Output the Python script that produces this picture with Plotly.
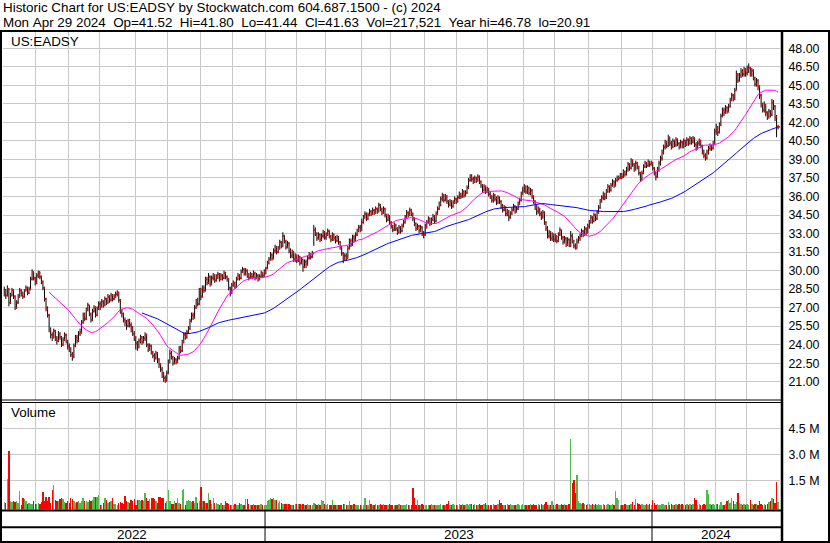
import pandas as pd
import plotly.graph_objects as go

# ---------------- text ----------------
title_line1 = "Historic Chart for US:EADSY by Stockwatch.com 604.687.1500 - (c) 2024"
title_line2 = "Mon Apr 29 2024  Op=41.52  Hi=41.80  Lo=41.44  Cl=41.63  Vol=217,521  Year hi=46.78  lo=20.91"
symbol_label = "US:EADSY"
volume_label = "Volume"

# ---------------- calendar (trading days) ----------------
start_date = "2022-05-02"
end_date = "2024-04-29"
market_holidays = [
    "2022-05-30", "2022-06-20", "2022-07-04", "2022-09-05", "2022-11-24", "2022-12-26",
    "2023-01-02", "2023-01-16", "2023-02-20", "2023-04-07", "2023-05-29", "2023-06-19",
    "2023-07-04", "2023-09-04", "2023-11-23", "2023-12-25",
    "2024-01-01", "2024-01-15", "2024-02-19", "2024-03-29",
]

# ---------------- daily data ----------------
close = [
    # May 2022
    28.3, 28.0, 28.5, 27.4, 28.0, 28.4, 27.9, 27.0, 27.4, 27.9, 28.4, 28.1, 27.9, 28.4, 28.6, 28.2, 28.5, 29.3, 29.9, 29.4, 29.0,
    # Jun 2022
    29.6, 29.9, 29.5, 29.1, 28.6, 27.7, 26.9, 26.4, 25.2, 24.8, 24.6, 25.1, 24.5, 24.3, 24.9, 24.6, 24.0, 24.4, 24.8, 24.3, 23.9,
    # Jul 2022
    23.6, 23.2, 23.0, 23.9, 24.6, 24.3, 24.9, 25.0, 25.8, 26.4, 26.1, 26.8, 27.2, 26.5, 26.0, 26.7, 27.0, 26.4, 26.9, 27.3,
    # Aug 2022
    27.1, 27.5, 27.2, 27.7, 27.4, 27.9, 27.6, 28.0, 27.7, 27.9, 28.1, 28.2, 27.6, 26.7, 26.5, 26.0, 25.8, 25.5, 25.9, 25.6, 25.3, 24.9, 24.6,
    # Sep 2022
    24.1, 23.8, 24.3, 24.6, 24.2, 24.5, 24.8, 24.0, 23.6, 23.9, 23.4, 23.1, 22.9, 23.3, 22.8, 22.4, 22.0, 21.6, 21.3, 21.1, 21.7,
    # Oct 2022
    22.6, 23.3, 23.0, 22.5, 22.8, 22.6, 22.9, 23.7, 23.5, 24.2, 24.8, 24.6, 25.0, 25.3, 25.9, 26.4, 26.2, 27.0, 27.5, 27.3, 28.4,
    # Nov 2022
    27.9, 28.6, 28.4, 29.3, 29.0, 29.5, 28.9, 29.4, 29.6, 29.2, 29.5, 29.7, 29.3, 29.6, 29.4, 29.8, 29.5, 29.3, 28.6, 28.2, 28.8,
    # Dec 2022
    29.0, 28.7, 29.3, 29.6, 29.4, 29.9, 30.1, 29.7, 30.0, 29.6, 29.4, 29.7, 29.5, 29.8, 29.4, 29.6, 29.3, 29.5, 29.8, 29.6, 29.9,
    # Jan 2023
    30.2, 30.6, 30.9, 31.3, 31.0, 31.6, 31.9, 31.5, 31.8, 32.3, 32.0, 32.8, 32.4, 31.9, 32.2, 31.6, 31.2, 31.5, 30.9, 31.2,
    # Feb 2023
    30.8, 31.1, 30.6, 30.9, 30.3, 30.7, 30.5, 31.0, 31.3, 31.1, 31.4, 33.3, 33.0, 32.6, 32.9, 32.5, 32.8, 33.1, 32.7,
    # Mar 2023
    32.9, 33.2, 32.8, 32.5, 32.9, 32.6, 32.4, 32.7, 32.3, 31.9, 31.4, 30.9, 31.2, 31.0, 31.8, 32.4, 32.1, 32.7, 32.5, 32.9, 33.2, 33.5, 33.3,
    # Apr 2023
    33.9, 34.3, 34.6, 34.2, 34.5, 34.8, 34.6, 34.9, 34.7, 35.0, 34.8, 35.3, 35.0, 34.7, 35.0, 34.5, 34.1, 34.4, 33.9,
    # May 2023
    33.6, 33.3, 33.7, 33.4, 33.1, 33.5, 33.2, 33.6, 33.9, 34.3, 34.7, 34.5, 34.9, 34.6, 34.2, 33.8, 33.4, 33.6, 33.2, 33.5, 33.0, 32.9,
    # Jun 2023
    33.6, 33.9, 34.2, 33.8, 34.1, 34.4, 34.0, 34.6, 35.0, 35.4, 35.8, 36.1, 35.7, 36.0, 35.6, 35.3, 35.6, 35.2, 35.5, 35.8, 35.6,
    # Jul 2023
    35.9, 36.2, 36.0, 36.4, 36.1, 36.3, 36.7, 37.3, 37.6, 37.4, 37.2, 37.5, 37.3, 37.6, 37.2, 36.9, 36.5, 36.8, 36.4, 36.6,
    # Aug 2023
    36.2, 36.0, 35.7, 36.1, 35.8, 35.5, 35.9, 35.6, 35.2, 34.9, 35.1, 34.6, 34.8, 34.3, 34.6, 34.9, 35.2, 34.8, 35.0, 35.4, 35.7, 36.2, 36.5,
    # Sep 2023
    36.8, 36.4, 36.7, 36.3, 36.5, 36.0, 35.6, 35.1, 34.8, 35.0, 34.6, 34.4, 34.7, 33.9, 33.4, 32.8, 33.1, 32.6, 32.9, 32.5,
    # Oct 2023
    32.8, 32.4, 32.9, 33.3, 32.7, 32.3, 32.6, 32.1, 32.5, 32.1, 32.8, 32.4, 32.0, 31.8, 32.3, 32.6, 32.8, 33.2, 32.9, 33.4, 33.1, 33.6,
    # Nov 2023
    33.9, 34.3, 34.0, 34.5, 34.2, 34.7, 35.1, 35.6, 35.9, 36.2, 35.9, 36.4, 36.8, 36.5, 36.9, 37.2, 36.9, 37.3, 37.5, 37.5, 37.7,
    # Dec 2023
    37.6, 38.0, 37.8, 38.2, 38.6, 38.3, 38.9, 38.6, 38.2, 38.7, 38.4, 37.9, 37.4, 37.9, 38.4, 38.7, 38.5, 38.8, 38.6, 38.7,
    # Jan 2024
    38.3, 37.9, 37.6, 38.2, 38.7, 39.1, 39.6, 40.0, 40.4, 40.1, 40.8, 40.3, 40.0, 40.5, 40.2, 40.6, 40.3, 40.0, 40.4, 40.1, 40.5,
    # Feb 2024
    40.2, 40.6, 40.3, 40.7, 40.4, 40.7, 40.2, 39.9, 40.3, 40.5, 40.1, 39.6, 39.3, 39.1, 39.6, 39.9, 40.1, 39.9, 40.3, 41.3,
    # Mar 2024
    41.5, 41.2, 41.8, 42.5, 43.0, 42.8, 43.2, 42.9, 43.3, 43.8, 44.2, 43.9, 44.6, 45.9, 45.4, 45.8, 46.1, 45.9, 46.2, 46.0,
    # Apr 2024
    46.3, 46.4, 45.9, 46.2, 45.6, 45.1, 45.4, 44.9, 44.2, 43.5, 43.0, 43.4, 42.8, 42.5, 42.9, 42.6, 43.6, 43.3, 42.4, 41.6, 41.63,
]

high = [
    # May 2022
    28.7, 28.5, 28.8, 28.6, 28.2, 28.6, 28.5, 28.0, 27.6, 28.1, 28.6, 28.5, 28.3, 28.5, 28.8, 28.7, 28.7, 29.5, 30.1, 29.9, 29.5,
    # Jun 2022
    29.8, 30.0, 29.9, 29.6, 29.2, 28.7, 27.8, 27.1, 26.5, 25.4, 25.0, 25.3, 25.2, 24.7, 25.1, 25.0, 24.7, 24.6, 25.0, 24.9, 24.4,
    # Jul 2022
    24.1, 23.8, 23.4, 24.1, 24.8, 24.8, 25.1, 25.3, 26.0, 26.6, 26.6, 27.0, 27.4, 27.2, 26.6, 26.9, 27.2, 27.1, 27.1, 27.5,
    # Aug 2022
    27.5, 27.7, 27.6, 27.9, 27.8, 28.1, 28.0, 28.2, 28.1, 28.1, 28.3, 28.4, 28.3, 27.7, 26.9, 26.6, 26.2, 26.0, 26.1, 26.1, 25.8, 25.5, 25.1,
    # Sep 2022
    24.7, 24.3, 24.5, 24.8, 24.7, 24.7, 25.0, 24.9, 24.1, 24.1, 24.0, 23.5, 23.3, 23.5, 23.4, 22.9, 22.5, 22.2, 21.8, 21.5, 21.9,
    # Oct 2022
    22.8, 23.6, 23.5, 23.1, 23.0, 22.9, 23.1, 23.9, 23.9, 24.4, 25.0, 25.0, 25.2, 25.5, 26.1, 26.6, 26.6, 27.2, 27.7, 27.8, 28.6,
    # Nov 2022
    28.6, 28.8, 28.8, 29.5, 29.5, 29.8, 29.6, 29.6, 29.8, 29.7, 29.7, 29.9, 29.8, 29.8, 29.7, 30.0, 29.9, 29.6, 29.4, 28.7, 29.0,
    # Dec 2022
    29.2, 29.1, 29.5, 29.8, 29.7, 30.1, 30.3, 30.2, 30.2, 30.1, 29.8, 29.9, 29.8, 30.0, 29.9, 29.8, 29.7, 29.7, 30.0, 29.9, 30.1,
    # Jan 2023
    30.3, 30.8, 31.1, 31.5, 31.4, 31.8, 32.1, 32.0, 32.0, 32.5, 32.4, 33.1, 32.9, 32.5, 32.4, 32.3, 31.8, 31.7, 31.6, 31.4,
    # Feb 2023
    31.3, 31.3, 31.2, 31.1, 30.9, 30.9, 30.9, 31.2, 31.5, 31.4, 31.6, 33.7, 33.5, 33.1, 33.1, 33.0, 33.0, 33.3, 33.2,
    # Mar 2023
    33.1, 33.4, 33.3, 32.9, 33.1, 33.0, 32.8, 32.9, 32.8, 32.4, 32.0, 31.5, 31.4, 31.4, 32.0, 32.6, 32.6, 32.9, 32.9, 33.1, 33.4, 33.7, 33.7,
    # Apr 2023
    34.2, 34.5, 34.8, 34.7, 34.7, 35.0, 34.9, 35.1, 35.0, 35.2, 35.1, 35.5, 35.4, 35.1, 35.2, 35.1, 34.6, 34.6, 34.5,
    # May 2023
    34.0, 33.7, 33.9, 33.8, 33.5, 33.7, 33.6, 33.8, 34.1, 34.5, 34.9, 34.8, 35.1, 35.0, 34.7, 34.3, 33.9, 33.8, 33.7, 33.7, 33.6, 33.2,
    # Jun 2023
    33.8, 34.1, 34.4, 34.3, 34.3, 34.6, 34.5, 34.8, 35.2, 35.6, 36.0, 36.3, 36.2, 36.2, 36.1, 35.7, 35.8, 35.7, 35.7, 36.0, 35.9,
    # Jul 2023
    36.1, 36.4, 36.3, 36.6, 36.5, 36.5, 36.9, 37.5, 37.8, 37.8, 37.6, 37.7, 37.6, 37.8, 37.7, 37.3, 37.0, 37.0, 36.9, 36.8,
    # Aug 2023
    36.7, 36.4, 36.1, 36.3, 36.2, 36.0, 36.1, 36.0, 35.7, 35.4, 35.3, 35.2, 35.0, 34.9, 34.8, 35.1, 35.4, 35.3, 35.2, 35.6, 35.9, 36.4, 36.8,
    # Sep 2023
    37.0, 36.9, 36.9, 36.8, 36.7, 36.6, 36.1, 35.7, 35.3, 35.2, 35.1, 34.8, 34.9, 34.8, 34.0, 33.6, 33.3, 33.2, 33.1, 33.0,
    # Oct 2023
    33.0, 32.8, 33.1, 33.5, 33.3, 32.8, 32.8, 32.7, 32.7, 32.6, 33.2, 33.0, 32.5, 32.2, 32.6, 32.8, 33.0, 33.4, 33.3, 33.6, 33.5, 33.8,
    # Nov 2023
    34.1, 34.5, 34.4, 34.7, 34.6, 34.9, 35.3, 35.8, 36.1, 36.4, 36.3, 36.6, 37.0, 36.9, 37.1, 37.4, 37.3, 37.5, 37.7, 37.7, 37.9,
    # Dec 2023
    37.9, 38.2, 38.1, 38.4, 38.8, 38.7, 39.1, 39.0, 38.7, 38.9, 38.8, 38.5, 38.0, 38.1, 38.6, 38.9, 38.8, 39.0, 38.9, 38.9,
    # Jan 2024
    38.8, 38.4, 38.0, 38.4, 38.9, 39.3, 39.8, 40.2, 40.6, 40.5, 41.0, 40.8, 40.5, 40.7, 40.6, 40.8, 40.7, 40.4, 40.6, 40.5, 40.7,
    # Feb 2024
    40.6, 40.8, 40.7, 40.9, 40.8, 40.9, 40.8, 40.4, 40.5, 40.7, 40.6, 40.2, 39.8, 39.5, 39.8, 40.1, 40.3, 40.2, 40.5, 41.5,
    # Mar 2024
    41.9, 41.7, 42.0, 42.7, 43.2, 43.2, 43.4, 43.3, 43.5, 44.0, 44.4, 44.3, 44.8, 46.2, 46.0, 46.0, 46.4, 46.3, 46.5, 46.4,
    # Apr 2024
    46.6, 46.78, 46.5, 46.4, 46.3, 45.7, 45.6, 45.5, 45.0, 44.3, 43.6, 43.7, 43.5, 42.9, 43.1, 43.0, 43.9, 43.8, 43.4, 42.6, 41.80,
]

low = [
    # May 2022
    27.9, 27.7, 27.9, 27.1, 27.3, 27.9, 27.7, 26.8, 26.9, 27.3, 27.8, 27.9, 27.7, 27.8, 28.3, 28.0, 28.1, 28.4, 29.2, 29.2, 28.8,
    # Jun 2022
    28.9, 29.4, 29.3, 28.9, 28.4, 27.5, 26.7, 26.2, 25.0, 24.5, 24.3, 24.5, 24.3, 24.0, 24.2, 24.4, 23.8, 23.9, 24.3, 24.1, 23.6,
    # Jul 2022
    23.4, 23.0, 22.7, 22.9, 23.8, 24.1, 24.2, 24.7, 24.9, 25.7, 25.9, 26.0, 26.7, 26.3, 25.8, 25.9, 26.6, 26.2, 26.3, 26.8,
    # Aug 2022
    26.8, 27.0, 27.0, 27.1, 27.2, 27.3, 27.4, 27.5, 27.5, 27.6, 27.8, 27.9, 27.4, 26.5, 26.2, 25.8, 25.5, 25.2, 25.4, 25.4, 25.0, 24.7, 24.3,
    # Sep 2022
    23.6, 23.5, 23.7, 24.1, 24.0, 24.1, 24.3, 23.8, 23.4, 23.5, 23.2, 22.9, 22.6, 22.8, 22.5, 22.1, 21.8, 21.3, 21.0, 20.91, 21.0,
    # Oct 2022
    21.6, 22.5, 22.8, 22.3, 22.4, 22.4, 22.5, 22.8, 23.3, 23.4, 24.1, 24.4, 24.5, 24.9, 25.2, 25.8, 26.0, 26.1, 26.9, 27.1, 27.2,
    # Nov 2022
    27.6, 27.8, 28.2, 28.3, 28.8, 28.9, 28.7, 28.8, 29.2, 29.0, 29.1, 29.3, 29.1, 29.2, 29.2, 29.3, 29.3, 29.1, 28.4, 27.9, 28.1,
    # Dec 2022
    28.7, 28.5, 28.6, 29.2, 29.2, 29.3, 29.8, 29.6, 29.6, 29.4, 29.2, 29.3, 29.3, 29.4, 29.2, 29.3, 29.1, 29.2, 29.4, 29.4, 29.5,
    # Jan 2023
    29.7, 30.1, 30.5, 30.8, 30.8, 30.9, 31.4, 31.3, 31.4, 31.7, 31.8, 31.9, 32.2, 31.7, 31.8, 31.4, 31.0, 31.0, 30.7, 30.7,
    # Feb 2023
    30.6, 30.7, 30.4, 30.5, 29.9, 30.2, 30.2, 30.4, 30.9, 30.9, 31.0, 32.0, 32.8, 32.4, 32.5, 32.3, 32.4, 32.6, 32.5,
    # Mar 2023
    32.5, 32.8, 32.6, 32.3, 32.4, 32.4, 32.2, 32.3, 32.1, 31.7, 31.2, 30.6, 30.8, 30.8, 31.0, 31.7, 31.9, 32.0, 32.3, 32.4, 32.8, 33.1, 33.1,
    # Apr 2023
    33.2, 33.8, 34.2, 34.0, 34.1, 34.4, 34.4, 34.5, 34.5, 34.6, 34.6, 34.7, 34.8, 34.5, 34.6, 34.3, 33.9, 34.0, 33.7,
    # May 2023
    33.4, 33.1, 33.2, 33.2, 32.9, 33.0, 33.0, 33.1, 33.5, 33.8, 34.2, 34.3, 34.4, 34.4, 34.0, 33.6, 33.2, 33.3, 33.0, 33.1, 32.8, 32.6,
    # Jun 2023
    32.8, 33.4, 33.8, 33.6, 33.7, 34.0, 33.8, 33.9, 34.5, 34.9, 35.2, 35.6, 35.5, 35.6, 35.4, 35.1, 35.2, 35.0, 35.1, 35.4, 35.4,
    # Jul 2023
    35.5, 35.8, 35.8, 35.9, 35.9, 36.0, 36.2, 36.6, 37.2, 37.2, 37.0, 37.1, 37.1, 37.2, 37.0, 36.7, 36.3, 36.4, 36.2, 36.3,
    # Aug 2023
    36.0, 35.8, 35.5, 35.5, 35.6, 35.3, 35.4, 35.4, 35.0, 34.7, 34.8, 34.4, 34.4, 34.0, 34.2, 34.5, 34.8, 34.6, 34.7, 34.9, 35.3, 35.6, 36.1,
    # Sep 2023
    36.3, 36.2, 36.2, 36.1, 36.1, 35.8, 35.4, 34.9, 34.5, 34.6, 34.4, 34.1, 34.2, 33.7, 33.2, 32.6, 32.6, 32.4, 32.4, 32.3,
    # Oct 2023
    32.3, 32.2, 32.3, 32.8, 32.5, 32.1, 32.2, 31.9, 32.0, 31.9, 31.9, 32.2, 31.8, 31.7, 31.8, 32.2, 32.4, 32.7, 32.7, 32.8, 32.9, 33.0,
    # Nov 2023
    33.4, 33.8, 33.8, 33.9, 34.0, 34.1, 34.6, 35.0, 35.5, 35.7, 35.7, 35.8, 36.3, 36.3, 36.4, 36.8, 36.7, 36.8, 37.2, 37.3, 37.4,
    # Dec 2023
    37.4, 37.5, 37.6, 37.7, 38.0, 38.1, 38.2, 38.4, 38.0, 38.1, 38.2, 37.7, 37.2, 37.3, 37.8, 38.3, 38.3, 38.4, 38.4, 38.5,
    # Jan 2024
    38.1, 37.7, 37.3, 37.5, 38.0, 38.5, 38.9, 39.4, 39.8, 39.9, 40.0, 40.1, 39.8, 39.9, 40.0, 40.0, 40.1, 39.8, 39.9, 39.9, 39.9,
    # Feb 2024
    40.0, 40.1, 40.1, 40.2, 40.2, 40.3, 40.0, 39.7, 39.8, 40.1, 39.9, 39.4, 39.1, 38.9, 39.0, 39.4, 39.7, 39.7, 39.8, 40.2,
    # Mar 2024
    41.0, 40.9, 41.1, 41.7, 42.4, 42.5, 42.7, 42.7, 42.8, 43.2, 43.7, 43.7, 43.8, 44.6, 45.2, 45.3, 45.6, 45.7, 45.7, 45.7,
    # Apr 2024
    45.8, 46.0, 45.7, 45.7, 45.4, 44.9, 44.9, 44.6, 43.9, 43.2, 42.8, 42.8, 42.5, 42.2, 42.3, 42.4, 42.5, 43.0, 42.1, 40.8, 41.44,
]

volume_m = [  # millions of shares
    # May 2022
    0.27, 0.2, 1.57, 3.19, 0.28, 0.25, 0.3, 0.25, 0.3, 0.2, 0.9, 0.1, 0.5, 0.4, 0.3, 0.15, 0.2, 0.15, 0.12, 0.3, 0.15,
    # Jun 2022
    0.15, 0.2, 0.15, 0.25, 0.84, 0.3, 0.55, 0.3, 0.55, 0.2, 0.95, 1.23, 0.35, 0.3, 0.3, 0.4, 0.5, 0.4, 0.25, 0.2, 0.3,
    # Jul 2022
    0.2, 0.5, 0.4, 0.3, 0.2, 0.25, 0.3, 0.2, 0.3, 0.45, 0.3, 0.3, 0.25, 0.35, 0.3, 0.35, 0.55, 0.55, 0.55, 0.65,
    # Aug 2022
    0.1, 0.08, 0.2, 0.45, 0.35, 0.2, 0.25, 0.3, 0.45, 0.15, 0.15, 0.1, 0.2, 0.25, 0.2, 0.15, 0.6, 0.3, 0.25, 0.2, 0.35, 0.3, 0.4,
    # Sep 2022
    0.1, 0.35, 0.35, 0.3, 0.35, 0.3, 0.75, 0.45, 0.3, 0.4, 0.45, 0.5, 0.4, 0.3, 0.2, 0.52, 0.55, 0.45, 0.45, 0.2, 0.3,
    # Oct 2022
    0.95, 0.3, 0.15, 0.15, 0.3, 0.2, 0.45, 0.2, 0.15, 0.95, 1.0, 0.1, 0.3, 0.35, 0.3, 0.25, 0.3, 0.2, 0.55, 0.2, 0.3,
    # Nov 2022
    1.1, 0.3, 0.3, 0.2, 0.2, 0.75, 0.35, 0.15, 0.45, 0.2, 0.2, 0.15, 0.1, 0.2, 0.1, 0.1, 0.3, 0.2, 0.15, 0.1, 0.1,
    # Dec 2022
    0.1, 0.15, 0.1, 0.1, 0.2, 0.15, 0.1, 0.1, 0.4, 0.4, 0.15, 0.1, 0.1, 0.15, 0.1, 0.1, 0.05, 0.1, 0.15, 0.1, 0.1,
    # Jan 2023
    0.1, 0.3, 0.35, 0.45, 0.4, 0.45, 0.35, 0.35, 0.2, 0.3, 0.2, 0.15, 0.15, 0.15, 0.15, 0.12, 0.1, 0.1, 0.08, 0.15,
    # Feb 2023
    0.15, 0.15, 0.15, 0.1, 0.12, 0.1, 0.1, 0.15, 0.08, 0.1, 0.1, 0.2, 0.15, 0.1, 0.15, 0.1, 0.35, 0.3, 0.15,
    # Mar 2023
    0.1, 0.12, 0.1, 0.1, 0.35, 0.1, 0.08, 0.08, 0.08, 0.1, 0.08, 0.12, 0.15, 0.1, 0.1, 0.3, 0.1, 0.1, 0.15, 0.1, 0.08, 0.1, 0.1,
    # Apr 2023
    0.1, 0.1, 0.45, 0.1, 0.1, 0.35, 0.15, 0.1, 0.1, 0.12, 0.1, 0.1, 0.15, 0.1, 0.12, 0.1, 0.1, 0.1, 0.15,
    # May 2023
    0.1, 0.1, 0.1, 0.1, 0.1, 0.12, 0.1, 0.1, 0.08, 0.1, 0.15, 0.1, 0.1, 0.1, 1.05, 0.45, 0.1, 0.35, 0.1, 0.1, 0.12, 0.1,
    # Jun 2023
    0.1, 0.1, 0.1, 0.1, 0.12, 0.1, 0.1, 0.1, 0.1, 0.1, 0.15, 0.1, 0.08, 0.1, 0.15, 0.28, 0.1, 0.1, 0.12, 0.1, 0.1,
    # Jul 2023
    0.1, 0.12, 0.1, 0.15, 0.1, 0.1, 0.12, 0.1, 0.15, 0.12, 0.1, 0.15, 0.1, 0.1, 0.12, 0.1, 0.1, 0.15, 0.2, 0.1,
    # Aug 2023
    0.1, 0.1, 0.1, 0.15, 0.1, 0.1, 0.12, 0.35, 0.2, 0.1, 0.1, 0.1, 0.12, 0.1, 0.15, 0.1, 0.1, 0.08, 0.1, 0.12, 0.1, 0.1, 0.12,
    # Sep 2023
    0.1, 0.08, 0.1, 0.1, 0.12, 0.1, 0.12, 0.1, 0.1, 0.15, 0.1, 0.12, 0.1, 0.12, 0.25, 0.1, 0.1, 0.1, 0.28, 0.1,
    # Oct 2023
    0.1, 0.12, 0.1, 0.1, 0.15, 0.1, 0.12, 0.1, 0.1, 0.12, 3.88, 1.33, 1.5, 0.75, 1.8, 0.3, 0.2, 0.15, 0.2, 0.12, 0.1, 0.15,
    # Nov 2023
    0.15, 0.1, 0.12, 0.1, 0.15, 0.1, 0.12, 0.1, 0.1, 0.12, 0.1, 0.1, 0.15, 0.1, 0.1, 0.12, 0.08, 0.9, 0.45, 0.35, 0.1,
    # Dec 2023
    0.1, 0.1, 0.12, 0.1, 0.1, 0.1, 0.12, 0.25, 0.1, 0.4, 0.2, 0.15, 0.1, 0.12, 0.1, 0.1, 0.12, 0.1, 0.12, 0.1,
    # Jan 2024
    0.35, 0.2, 0.1, 0.12, 0.1, 0.1, 0.15, 0.12, 0.1, 0.1, 0.25, 0.1, 0.12, 0.1, 0.1, 0.12, 0.1, 0.15, 0.1, 0.12, 0.1,
    # Feb 2024
    0.1, 0.12, 0.1, 0.15, 0.1, 0.12, 0.5, 0.35, 0.1, 0.12, 0.1, 0.1, 0.12, 0.1, 0.95, 0.7, 0.15, 0.1, 0.12, 0.1,
    # Mar 2024
    0.15, 0.12, 0.1, 0.25, 0.1, 0.1, 0.12, 0.28, 0.35, 0.2, 0.45, 0.3, 0.12, 0.25, 0.75, 0.2, 0.12, 0.1, 0.15, 0.1,
    # Apr 2024
    0.12, 0.1, 0.35, 0.15, 0.1, 0.12, 0.15, 0.1, 0.3, 0.12, 0.1, 0.15, 0.1, 0.12, 0.25, 0.3, 0.45, 0.4, 0.2, 1.38, 0.22,
]

price_ticks = [21.0, 22.5, 24.0, 25.5, 27.0, 28.5, 30.0, 31.5, 33.0, 34.5, 36.0, 37.5, 39.0, 40.5, 42.0, 43.5, 45.0, 46.5, 48.0]
volume_ticks = [1.5, 3.0, 4.5]
ma_short, ma_long = 30, 90

# ---------------- derived ----------------
dates = pd.bdate_range(start_date, end_date)
dates = dates[~dates.isin(pd.to_datetime(market_holidays))]
n = len(close)
assert len(high) == n and len(low) == n and len(volume_m) == n, (len(close), len(high), len(low), len(volume_m))
assert len(dates) == n, (len(dates), n)

idx = list(range(n))
ma1 = pd.Series(close).rolling(ma_short).mean().tolist()
ma2 = pd.Series(close).rolling(ma_long).mean().tolist()

hl_x, hl_y = [], []
for i in idx:
    hl_x += [i, i, None]
    hl_y += [low[i], high[i], None]

vcolors = ["#a0a0a0"]
for i in range(1, n):
    if close[i] > close[i - 1]:
        vcolors.append("#4cbb4c")
    elif close[i] < close[i - 1]:
        vcolors.append("#ff0000")
    else:
        vcolors.append("#a0a0a0")

month_bounds = [i - 0.5 for i in range(1, n) if dates[i].month != dates[i - 1].month]
year_bounds = [i - 0.5 for i in range(1, n) if dates[i].year != dates[i - 1].year]
years = sorted(set(d.year for d in dates))

# ---------------- geometry (pixels -> paper) ----------------
W, H = 830, 543
FONT = "Liberation Sans, Arial, sans-serif"
def px(x):
    return x / W
def py(y):
    return 1 - y / H

x_range = [-0.8, n - 1 + 1.2]
price_range = [19.56, 49.32]
vol_range = [-0.186, 5.99]
vbase = vol_range[0]

fig = go.Figure()
fig.add_trace(go.Scatter(x=hl_x, y=hl_y, mode="lines", line=dict(color="black", width=1),
                         hoverinfo="skip", showlegend=False, xaxis="x", yaxis="y"))
fig.add_trace(go.Scatter(x=[i + 0.6 for i in idx], y=close, mode="markers",
                         marker=dict(symbol="square", size=1.8, color="#ff0000", line=dict(width=0)),
                         showlegend=False, xaxis="x", yaxis="y"))
fig.add_trace(go.Scatter(x=idx, y=ma1, mode="lines", line=dict(color="#ff00ff", width=1),
                         showlegend=False, xaxis="x", yaxis="y"))
fig.add_trace(go.Scatter(x=idx, y=ma2, mode="lines", line=dict(color="#0000ff", width=1),
                         showlegend=False, xaxis="x", yaxis="y"))
fig.add_trace(go.Bar(x=idx, y=[v - vbase for v in volume_m], base=vbase, width=0.9,
                     marker=dict(color=vcolors, line=dict(width=0)),
                     showlegend=False, xaxis="x2", yaxis="y2"))

grid = "#c8c8c8"
axis_x = dict(range=x_range, tickvals=month_bounds, showticklabels=False, ticks="",
              showgrid=True, gridcolor=grid, gridwidth=1, zeroline=False, showline=False,
              domain=[px(3), px(780)])
fig.update_layout(
    width=W, height=H,
    margin=dict(l=0, r=0, t=0, b=0),
    paper_bgcolor="white", plot_bgcolor="white",
    showlegend=False, bargap=0,
    font=dict(family=FONT, color="black"),
    xaxis=dict(axis_x, anchor="y"),
    xaxis2=dict(axis_x, anchor="y2", matches="x"),
    yaxis=dict(domain=[py(399.5), py(32)], range=price_range, side="right", anchor="x",
               tickvals=price_ticks, ticktext=[f"{v:.2f}" for v in price_ticks],
               showgrid=True, gridcolor=grid, gridwidth=1, zeroline=False, showline=False,
               ticks="outside", ticklen=5, tickcolor="rgba(0,0,0,0)",
               tickfont=dict(family=FONT, size=12.4, color="black")),
    yaxis2=dict(domain=[py(509.5), py(402.5)], range=vol_range, side="right", anchor="x2",
                tickvals=volume_ticks, ticktext=[f"{v:.1f} M" for v in volume_ticks],
                showgrid=True, gridcolor=grid, gridwidth=1, zeroline=False, showline=False,
                ticks="outside", ticklen=5, tickcolor="rgba(0,0,0,0)",
                tickfont=dict(family=FONT, size=12.4, color="black")),
)

def ann(text, x, y, xref="paper", size=13.4, xanchor="left"):
    fig.add_annotation(text=text, x=x, y=y, xref=xref, yref="paper", showarrow=False,
                       xanchor=xanchor, yanchor="middle", font=dict(family=FONT, size=size, color="black"))

ann(title_line1.replace(" ", "\u00a0"), px(1), py(7.5))
ann(title_line2.replace(" ", "\u00a0"), px(1), py(22))
ann(symbol_label, px(9), py(41))
ann(volume_label, px(9), py(413))

edges = [x_range[0] - 2] + year_bounds + [x_range[1]]
for k, yr in enumerate(years):
    ann(str(yr), (edges[k] + edges[k + 1]) / 2, py(534.5), xref="x", xanchor="center")

def hline(y, x0, x1, w):
    fig.add_shape(type="line", xref="paper", yref="paper", x0=px(x0), x1=px(x1), y0=py(y), y1=py(y),
                  line=dict(color="black", width=w))
def vline(x, y0, y1, w):
    fig.add_shape(type="line", xref="paper", yref="paper", x0=px(x), x1=px(x), y0=py(y0), y1=py(y1),
                  line=dict(color="black", width=w))

hline(31, 0, W, 2)          # under title
hline(400, 0, 782, 1)       # price / volume double rule
hline(402.5, 0, 782, 1)
hline(510.5, 0, 782, 2)     # bottom of volume
hline(527.3, 0, 782, 2)     # year strip rule
hline(542, 0, W, 2)         # bottom border
vline(1, 31, H, 2)          # left border
vline(782, 31, H, 2.5)      # right edge of plot
vline(829, 31, H, 2)        # outer right border
for b in year_bounds:
    fig.add_shape(type="line", xref="x", yref="paper", x0=b, x1=b, y0=py(511), y1=py(542),
                  line=dict(color="black", width=1))

fig.write_html("out.html", config={"displayModeBar": False, "staticPlot": True},
               post_script="document.body.style.margin='0';document.body.style.overflow='hidden';")
